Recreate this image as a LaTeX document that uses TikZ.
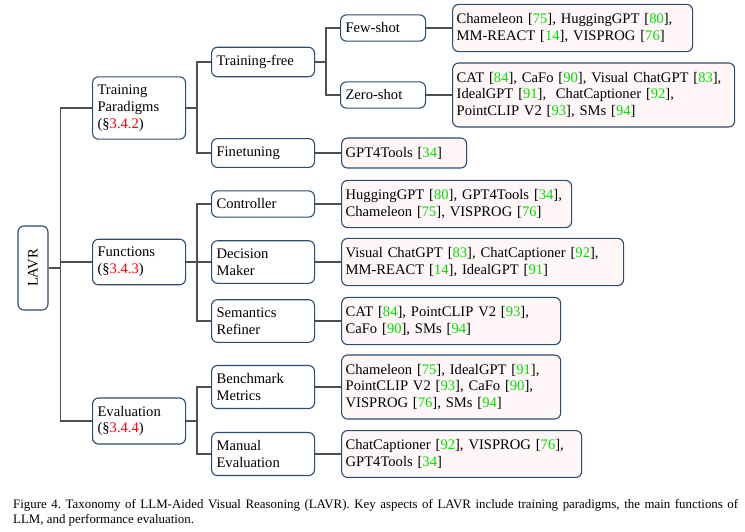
\documentclass[tikz,border=0pt]{standalone}
\usepackage{fontspec}
\setmainfont{Liberation Serif}
\definecolor{boxblue}{HTML}{2B4C6F}
\definecolor{leafpink}{HTML}{FFF6F8}
\definecolor{wiregray}{HTML}{505050}
\definecolor{citegreen}{HTML}{00E000}
\definecolor{secred}{HTML}{FF0000}
\usetikzlibrary{positioning}
\newcommand{\lvcite}[1]{[\textcolor{citegreen}{#1}]}
\newcommand{\lvsec}[1]{(\S\textcolor{secred}{#1})}

\begin{document}
\frenchspacing
\begin{tikzpicture}[
  x=1pt, y=-1pt,
  cat/.style={draw=boxblue, line width=1.1pt, fill=white, rounded corners=6pt,
              align=left, anchor=west, inner xsep=5pt, inner ysep=8pt,
              font=\fontsize{14.6}{16.8}\selectfont},
  lvl1/.style={cat, text width=83pt},
  lvl2/.style={cat, text width=93pt},
  lvl3/.style={cat, text width=75pt},
  leaf/.style={cat, fill=leafpink, inner xsep=4pt, inner ysep=9pt},
  wire/.style={draw=wiregray, line width=1.4pt},
]
\useasboundingbox (0,0) rectangle (745,531);

\node[cat, rotate=90, anchor=center, minimum width=84pt, minimum height=30pt,
      inner sep=0pt] (root) at (33,268) {LAVR};

\node[lvl1] (tp) at (92,108) {Training\\Paradigms\\\lvsec{3.4.2}};
\node[lvl1] (fn) at (92,262) {Functions\\\lvsec{3.4.3}};
\node[lvl1] (ev) at (92,421) {Evaluation\\\lvsec{3.4.4}};

\node[lvl2] (tf) at (211,62) {Training-free};
\node[lvl2] (ft) at (211,153) {Finetuning};
\node[lvl2] (ctl) at (211,204) {Controller};
\node[lvl2] (dm) at (211,262) {Decision\\Maker};
\node[lvl2] (sr) at (211,321) {Semantics\\Refiner};
\node[lvl2] (bm) at (211,387) {Benchmark\\Metrics};
\node[lvl2] (me) at (211,454) {Manual\\Evaluation};

\node[lvl3] (fs) at (340,28) {Few-shot};
\node[lvl3] (zs) at (340,95) {Zero-shot};

\node[leaf, text width=232pt, right=26pt of fs] (l-fs) {Chameleon \lvcite{75}, HuggingGPT \lvcite{80},\\MM-REACT \lvcite{14}, VISPROG \lvcite{76}};
\node[leaf, text width=274pt, right=26pt of zs] (l-zs) {CAT \lvcite{84}, CaFo \lvcite{90}, Visual ChatGPT \lvcite{83},\\IdealGPT \lvcite{91},\ \ ChatCaptioner \lvcite{92},\\PointCLIP V2 \lvcite{93}, SMs \lvcite{94}};
\node[leaf, text width=117pt, right=26pt of ft] (l-ft) {GPT4Tools \lvcite{34}};
\node[leaf, text width=222pt, right=26pt of ctl] (l-ctl) {HuggingGPT \lvcite{80}, GPT4Tools \lvcite{34},\\Chameleon \lvcite{75}, VISPROG \lvcite{76}};
\node[leaf, text width=274pt, right=26pt of dm] (l-dm) {Visual ChatGPT \lvcite{83}, ChatCaptioner \lvcite{92},\\MM-REACT \lvcite{14}, IdealGPT \lvcite{91}};
\node[leaf, text width=211pt, right=26pt of sr] (l-sr) {CAT \lvcite{84}, PointCLIP V2 \lvcite{93},\\CaFo \lvcite{90}, SMs \lvcite{94}};
\node[leaf, text width=211pt, right=26pt of bm] (l-bm) {Chameleon \lvcite{75}, IdealGPT \lvcite{91},\\PointCLIP V2 \lvcite{93}, CaFo \lvcite{90},\\VISPROG \lvcite{76}, SMs \lvcite{94}};
\node[leaf, text width=232pt, right=26pt of me] (l-me) {ChatCaptioner \lvcite{92}, VISPROG \lvcite{76},\\GPT4Tools \lvcite{34}};

\foreach \kid in {tp,fn,ev}
  \draw[wire] (root.south) -- ++(12,0) |- (\kid.west);
\foreach \kid in {tf,ft}
  \draw[wire] (tp.east) -- ++(11,0) |- (\kid.west);
\foreach \kid in {ctl,dm,sr}
  \draw[wire] (fn.east) -- ++(11,0) |- (\kid.west);
\foreach \kid in {bm,me}
  \draw[wire] (ev.east) -- ++(11,0) |- (\kid.west);
\foreach \kid in {fs,zs}
  \draw[wire] (tf.east) -- ++(11,0) |- (\kid.west);
\foreach \kid in {fs,zs,ft,ctl,dm,sr,bm,me}
  \draw[wire] (\kid.east) -- (l-\kid.west);

\node[anchor=north west, inner sep=0pt, text width=725pt, align=justify,
      font=\fontsize{12.9}{15.7}\selectfont] (cap) at (13,499)
  {Figure 4. Taxonomy of LLM-Aided Visual Reasoning (LAVR). Key aspects of LAVR include training paradigms, the main functions of\linebreak LLM, and performance evaluation.};
\end{tikzpicture}
\end{document}
